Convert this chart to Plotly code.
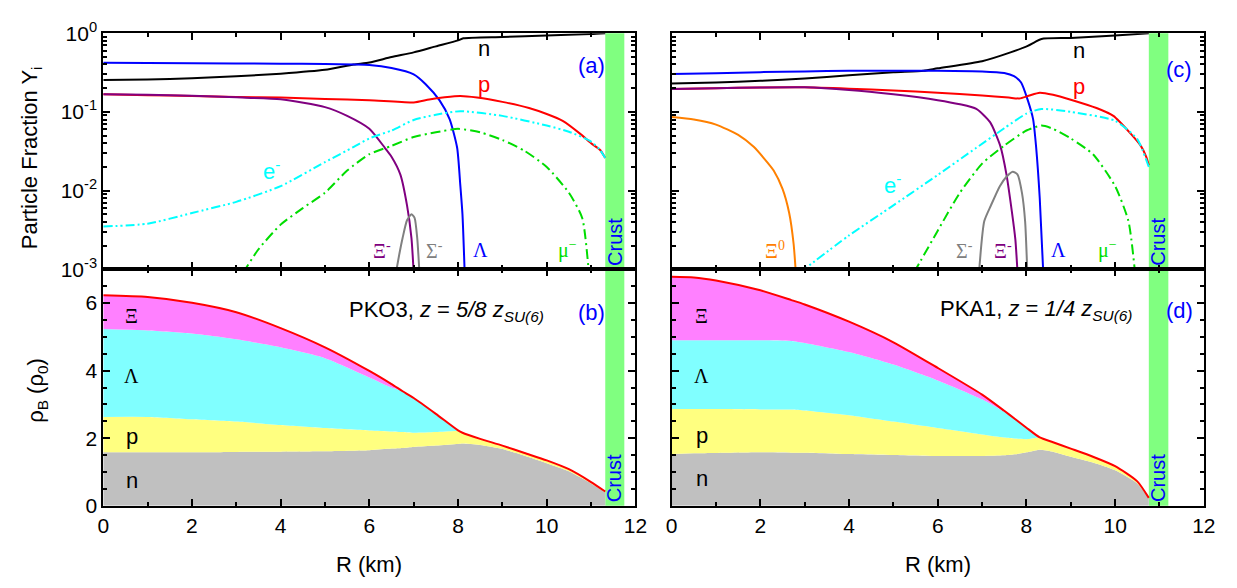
import plotly.graph_objects as go
import numpy as np

# ---------------- DATA ----------------
# Panel (a) PKO3 particle fractions
a_n_R = [0, 1, 2, 3, 4, 5, 5.65, 6, 6.5, 7, 7.5, 8, 8.12, 9, 10, 11, 11.32]
a_n_Y = [0.254, 0.258, 0.268, 0.284, 0.306, 0.342, 0.40, 0.424, 0.497, 0.57, 0.68, 0.81, 0.86, 0.894, 0.937, 0.975, 1.0]
a_L_R = [0, 2, 4, 5, 5.65, 6, 6.5, 7, 7.27, 7.58, 7.81, 7.98, 8.05, 8.1, 8.15]
a_L_Y = [0.42, 0.415, 0.41, 0.405, 0.40, 0.394, 0.36, 0.30, 0.225, 0.141, 0.081, 0.035, 0.012, 0.005, 0.0009]
a_p_R = [0, 1, 2, 3, 4, 5, 6, 7, 7.35, 7.7, 8.05, 8.43, 9, 9.6, 10, 10.36, 10.75, 11, 11.2, 11.32]
a_p_Y = [0.167, 0.163, 0.159, 0.155, 0.152, 0.146, 0.141, 0.132, 0.144, 0.153, 0.159, 0.152, 0.134, 0.112, 0.094, 0.077, 0.053, 0.04, 0.033, 0.026]
a_Xm_R = [0, 1, 2, 3, 4, 5, 5.5, 6, 6.35, 6.5, 6.7, 6.85, 6.95, 7.0]
a_Xm_Y = [0.167, 0.165, 0.16, 0.153, 0.145, 0.115, 0.089, 0.061, 0.035, 0.027, 0.0160, 0.0065, 0.0025, 0.0009]
a_Sm_R = [6.6, 6.68, 6.75, 6.85, 6.95, 7.02, 7.08, 7.13]
a_Sm_Y = [0.0009, 0.0016, 0.0025, 0.0042, 0.005, 0.0045, 0.0025, 0.0009]
a_e_R = [0, 1, 2, 3, 4, 5, 5.65, 6, 6.5, 7, 7.5, 8.05, 9, 10, 10.5, 11, 11.2, 11.32]
a_e_Y = [0.0035, 0.0038, 0.0052, 0.0072, 0.0114, 0.023, 0.036, 0.046, 0.058, 0.079, 0.092, 0.102, 0.089, 0.067, 0.056, 0.042, 0.033, 0.026]
a_mu_R = [3.15, 3.5, 4, 4.5, 5, 5.5, 6, 6.5, 7, 7.5, 8.0, 8.5, 9, 9.5, 10, 10.5, 10.8, 10.95]
a_mu_Y = [0.0009, 0.0018, 0.0037, 0.006, 0.0094, 0.018, 0.029, 0.037, 0.048, 0.055, 0.061, 0.055, 0.044, 0.032, 0.02, 0.0094, 0.0045, 0.0009]

# Panel (c) PKA1 particle fractions
c_n_R = [0, 1, 2, 3, 4, 5, 5.68, 6, 7, 7.64, 8.03, 8.19, 8.34, 9, 10, 10.76]
c_n_Y = [0.229, 0.236, 0.248, 0.266, 0.292, 0.32, 0.333, 0.358, 0.44, 0.57, 0.69, 0.77, 0.845, 0.87, 0.935, 1.0]
c_L_R = [0, 1, 2, 3, 4, 5, 6, 7, 7.5, 7.72, 7.88, 8.03, 8.15, 8.22, 8.3, 8.38]
c_L_Y = [0.303, 0.31, 0.32, 0.327, 0.333, 0.334, 0.333, 0.327, 0.312, 0.284, 0.236, 0.141, 0.081, 0.035, 0.008, 0.0009]
c_p_R = [0, 1, 2, 3, 4, 5, 6, 7, 7.6, 7.84, 8.05, 8.3, 8.6, 9, 9.58, 9.96, 10.35, 10.58, 10.7, 10.76]
c_p_Y = [0.195, 0.2, 0.204, 0.205, 0.197, 0.187, 0.175, 0.162, 0.152, 0.148, 0.16, 0.175, 0.165, 0.143, 0.112, 0.089, 0.053, 0.037, 0.027, 0.021]
c_Xm_R = [0, 1, 2, 3, 4, 5, 6, 6.5, 6.87, 7.18, 7.41, 7.55, 7.67, 7.75, 7.8]
c_Xm_Y = [0.195, 0.2, 0.204, 0.205, 0.19, 0.167, 0.141, 0.125, 0.109, 0.074, 0.037, 0.016, 0.0055, 0.0024, 0.0009]
c_X0_R = [0, 0.5, 1, 1.5, 1.85, 2.1, 2.3, 2.5, 2.65, 2.75, 2.8]
c_X0_Y = [0.086, 0.080, 0.069, 0.051, 0.036, 0.025, 0.018, 0.0105, 0.0052, 0.0021, 0.0009]
c_Sm_R = [6.93, 7.05, 7.2, 7.4, 7.55, 7.69, 7.8, 7.9, 7.97, 8.02]
c_Sm_Y = [0.0009, 0.0041, 0.0065, 0.0114, 0.015, 0.0174, 0.016, 0.0093, 0.0041, 0.0009]
c_e_R = [2.88, 4, 5, 6, 6.87, 7.5, 8, 8.34, 9, 10, 10.5, 10.76]
c_e_Y = [0.0009, 0.0027, 0.0065, 0.0158, 0.035, 0.062, 0.095, 0.109, 0.1, 0.077, 0.045, 0.02]
c_mu_R = [5.46, 6, 6.5, 7, 7.49, 8, 8.34, 8.6, 9, 9.5, 10, 10.3, 10.45]
c_mu_Y = [0.0009, 0.0031, 0.0094, 0.022, 0.037, 0.058, 0.067, 0.061, 0.046, 0.029, 0.0114, 0.0041, 0.0009]

# Panel (b) PKO3 baryon densities (rho_0) by species
b_R = [0, 1, 2, 3, 4, 5, 6, 6.5, 6.75, 7, 7.5, 8, 8.1, 8.5, 9, 9.5, 10, 10.5, 11, 11.32]
b_n = [1.58, 1.58, 1.58, 1.59, 1.60, 1.61, 1.64, 1.69, 1.71, 1.74, 1.78, 1.83, 1.84, 1.80, 1.68, 1.48, 1.26, 1.02, 0.66, 0.40]
b_p = [1.05, 1.05, 0.98, 0.90, 0.79, 0.69, 0.59, 0.51, 0.47, 0.42, 0.40, 0.38, 0.32, 0.18, 0.10, 0.08, 0.08, 0.06, 0.04, 0.02]
b_L = [2.60, 2.56, 2.54, 2.44, 2.30, 2.07, 1.57, 1.30, 1.21, 1.03, 0.54, 0.02, 0, 0, 0, 0, 0, 0, 0, 0]
b_X = [1.00, 0.99, 0.91, 0.80, 0.57, 0.32, 0.19, 0.10, 0, 0, 0, 0, 0, 0, 0, 0, 0, 0, 0, 0]

# Panel (d) PKA1 baryon densities (rho_0) by species
d_R = [0, 0.5, 1, 2, 2.7, 3, 4, 5, 6, 7, 7.5, 7.75, 8, 8.3, 8.6, 9, 9.5, 10, 10.5, 10.76]
d_n = [1.53, 1.55, 1.56, 1.58, 1.57, 1.57, 1.53, 1.50, 1.47, 1.47, 1.49, 1.52, 1.58, 1.66, 1.60, 1.45, 1.28, 1.05, 0.66, 0.22]
d_p = [1.33, 1.31, 1.30, 1.27, 1.28, 1.25, 1.15, 0.99, 0.83, 0.64, 0.53, 0.47, 0.39, 0.36, 0.28, 0.24, 0.17, 0.12, 0.06, 0.01]
d_L = [2.04, 2.04, 2.04, 2.05, 2.03, 2.00, 1.87, 1.69, 1.41, 1.04, 0.76, 0.57, 0.34, 0, 0, 0, 0, 0, 0, 0]
d_X = [1.88, 1.86, 1.77, 1.48, 1.21, 1.14, 0.90, 0.66, 0.37, 0.14, 0.03, 0, 0, 0, 0, 0, 0, 0, 0, 0]

# Crust bands (km)
crust_left = [11.32, 11.75]
crust_right = [10.76, 11.20]

x_ticks = [0, 2, 4, 6, 8, 10, 12]
log_ticks = [0.001, 0.01, 0.1, 1]
log_tick_text = ["10<sup>-3</sup>", "10<sup>-2</sup>", "10<sup>-1</sup>", "10<sup>0</sup>"]
rho_ticks = [0, 2, 4, 6]

# ---------------- FIGURE ----------------
W, H = 1237, 588
FONT = "Liberation Sans, Arial, sans-serif"
SERIF = "Liberation Serif, Times New Roman, serif"
BLUE = "#0000FF"
PURPLE = "#800080"
GRAY = "#808080"
CYAN = "#00FFFF"
GREEN = "#00DD00"
ORANGE = "#FF8000"
SMOOTH = 0.6

fig = go.Figure()


def line(x, y, color, xa, ya, dash="solid", width=2):
    fig.add_trace(go.Scatter(x=x, y=y, mode="lines", xaxis=xa, yaxis=ya,
                             line=dict(color=color, width=width, dash=dash,
                                       shape="spline", smoothing=SMOOTH),
                             showlegend=False, hoverinfo="skip"))


EDASH = "9px,3px,2px,3px,2px,3px"
MDASH = "10px,4px,2px,4px"

# (a)
line(a_n_R, a_n_Y, "black", "x", "y")
line(a_L_R, a_L_Y, BLUE, "x", "y")
line(a_p_R, a_p_Y, "red", "x", "y")
line(a_Xm_R, a_Xm_Y, PURPLE, "x", "y")
line(a_Sm_R, a_Sm_Y, GRAY, "x", "y")
line(a_e_R, a_e_Y, CYAN, "x", "y", dash=EDASH)
line(a_mu_R, a_mu_Y, GREEN, "x", "y", dash=MDASH)

# (c)
line(c_n_R, c_n_Y, "black", "x3", "y3")
line(c_L_R, c_L_Y, BLUE, "x3", "y3")
line(c_p_R, c_p_Y, "red", "x3", "y3")
line(c_Xm_R, c_Xm_Y, PURPLE, "x3", "y3")
line(c_X0_R, c_X0_Y, ORANGE, "x3", "y3")
line(c_Sm_R, c_Sm_Y, GRAY, "x3", "y3")
line(c_e_R, c_e_Y, CYAN, "x3", "y3", dash=EDASH)
line(c_mu_R, c_mu_Y, GREEN, "x3", "y3", dash=MDASH)


def stack(R, comps, xa, ya, group):
    colors = ["#C0C0C0", "#FFFF80", "#80FFFF", "#FF80FF"]
    for vals, col in zip(comps, colors):
        fig.add_trace(go.Scatter(x=R, y=vals, mode="lines", stackgroup=group,
                                 fillcolor=col,
                                 line=dict(width=0, color=col, shape="spline", smoothing=SMOOTH),
                                 xaxis=xa, yaxis=ya, showlegend=False, hoverinfo="skip"))
    total = np.sum(np.array(comps), axis=0)
    line(R, total, "red", xa, ya)


stack(b_R, [b_n, b_p, b_L, b_X], "x2", "y2", "b")
stack(d_R, [d_n, d_p, d_L, d_X], "x4", "y4", "d")

# layout geometry (pixels)
LX = [98.7, 638.7]
RX = [675.5, 1215.5]
TOP = [20, 266.7]
BOT = [266.7, 513.5]


def dom_x(p):
    return [p[0] / W, p[1] / W]


def dom_y(p):
    return [1 - p[1] / H, 1 - p[0] / H]


tickfont = dict(family=FONT, size=21, color="black")
common = dict(showline=True, linecolor="black", linewidth=2, mirror="ticks",
              ticks="inside", ticklen=7, tickwidth=1.5, tickcolor="black",
              showgrid=False, zeroline=False, tickfont=tickfont)
xminor = dict(ticks="inside", ticklen=4, tickwidth=1.5, tickcolor="black", dtick=1, tick0=0)
logminor_vals = [m * 10.0 ** e for e in (-3, -2, -1) for m in range(2, 10)]
yminor_log = dict(ticks="inside", ticklen=4, tickwidth=1.5, tickcolor="black",
                  tickmode="array", tickvals=logminor_vals)
yminor_lin = dict(ticks="inside", ticklen=4, tickwidth=1.5, tickcolor="black", dtick=0.5, tick0=0)


def xax(dom, anchor, labels):
    return dict(common, domain=dom_x(dom), anchor=anchor, range=[0, 12],
                tickmode="array", tickvals=x_ticks, showticklabels=labels, minor=xminor)


def ylog(dom, anchor, labels):
    return dict(common, domain=dom_y(dom), anchor=anchor, type="log", range=[-3, 0.0002],
                tickmode="array", tickvals=log_ticks, ticktext=log_tick_text,
                showticklabels=labels, minor=yminor_log)


def ylin(dom, anchor, labels):
    return dict(common, domain=dom_y(dom), anchor=anchor, range=[0, 7],
                tickmode="array", tickvals=rho_ticks, showticklabels=labels, minor=yminor_lin)


fig.update_layout(
    width=W, height=H, margin=dict(l=0, r=0, t=0, b=0),
    paper_bgcolor="white", plot_bgcolor="white",
    font=dict(family=FONT, size=21, color="black"),
    showlegend=False,
    xaxis=xax(LX, "y", False), yaxis=ylog(TOP, "x", True),
    xaxis2=xax(LX, "y2", True), yaxis2=ylin(BOT, "x2", True),
    xaxis3=xax(RX, "y3", False), yaxis3=ylog(TOP, "x3", False),
    xaxis4=xax(RX, "y4", True), yaxis4=ylin(BOT, "x4", False),
)

# Crust bands spanning top and bottom panels
for xr, band in (("x", crust_left), ("x3", crust_right)):
    fig.add_shape(type="rect", xref=xr, yref="paper", x0=band[0], x1=band[1],
                  y0=1 - BOT[1] / H, y1=1 - TOP[0] / H,
                  fillcolor="#80FF80", line=dict(width=0), layer="below")

ann = []


def txt(x, y, t, xr, yr, color="black", size=22, family=FONT, **kw):
    kw.setdefault("xanchor", "center")
    kw.setdefault("yanchor", "middle")
    ann.append(dict(x=x, y=y, xref=xr, yref=yr, text=t, showarrow=False,
                    font=dict(family=family, size=size, color=color), **kw))


GS = 20  # greek label size
# (a) labels
txt(8.59, -0.2, "n", "x", "y")
txt(8.59, -0.65, "p", "x", "y", color="red")
txt(11.02, -0.405, "(a)", "x", "y", color=BLUE)
txt(3.8, -1.74, "e<sup>-</sup>", "x", "y", color=CYAN)
txt(6.29, -2.75, "Ξ<sup>-</sup>", "x", "y", color=PURPLE, family=SERIF, size=GS)
txt(7.47, -2.75, "Σ<sup>-</sup>", "x", "y", color=GRAY, family=SERIF, size=GS)
txt(8.51, -2.75, "Λ", "x", "y", color=BLUE, family=SERIF, size=GS)
txt(10.47, -2.75, "μ<sup>−</sup>", "x", "y", color=GREEN, family=SERIF, size=GS)

# (c) labels
txt(9.19, -0.22, "n", "x3", "y3")
txt(9.19, -0.68, "p", "x3", "y3", color="red")
txt(11.43, -0.46, "(c)", "x3", "y3", color=BLUE)
txt(4.97, -1.92, "e<sup>-</sup>", "x3", "y3", color=CYAN)
txt(2.34, -2.75, "Ξ<sup>0</sup>", "x3", "y3", color=ORANGE, family=SERIF, size=GS)
txt(6.61, -2.75, "Σ<sup>-</sup>", "x3", "y3", color=GRAY, family=SERIF, size=GS)
txt(7.47, -2.75, "Ξ<sup>-</sup>", "x3", "y3", color=PURPLE, family=SERIF, size=GS)
txt(8.72, -2.75, "Λ", "x3", "y3", color=BLUE, family=SERIF, size=GS)
txt(9.83, -2.75, "μ<sup>−</sup>", "x3", "y3", color=GREEN, family=SERIF, size=GS)

# (b) labels
txt(0.64, 5.63, "Ξ", "x2", "y2", family=SERIF, size=GS)
txt(0.64, 3.85, "Λ", "x2", "y2", family=SERIF, size=GS)
txt(0.64, 2.04, "p", "x2", "y2")
txt(0.64, 0.75, "n", "x2", "y2")
txt(7.75, 5.77, "PKO3, <i>z</i> = <i>5/8 z</i><sub><i>SU(6)</i></sub>", "x2", "y2")
txt(11.0, 5.73, "(b)", "x2", "y2", color=BLUE)

# (d) labels
txt(0.68, 5.63, "Ξ", "x4", "y4", family=SERIF, size=GS)
txt(0.68, 3.85, "Λ", "x4", "y4", family=SERIF, size=GS)
txt(0.68, 2.07, "p", "x4", "y4")
txt(0.68, 0.8, "n", "x4", "y4")
txt(8.22, 5.8, "PKA1, <i>z</i> = <i>1/4 z</i><sub><i>SU(6)</i></sub>", "x4", "y4")
txt(11.46, 5.77, "(d)", "x4", "y4", color=BLUE)

# Crust labels
for xr, yr, band in (("x", "y domain", crust_left), ("x2", "y2 domain", crust_left),
                     ("x3", "y3 domain", crust_right), ("x4", "y4 domain", crust_right)):
    txt((band[0] + band[1]) / 2, 0.005, "Crust", xr, yr, color=BLUE, size=20,
        textangle=-90, yanchor="bottom")

# Axis titles
txt(25 / W, 1 - 150 / H, "Particle Fraction Y<sub>i</sub>", "paper", "paper", size=22, textangle=-90)
txt(32 / W, 1 - 393 / H, "ρ<sub>B</sub> (ρ<sub>0</sub>)", "paper", "paper", size=22, textangle=-90)
txt(368.7 / W, 1 - 575 / H, "R (km)", "paper", "paper", size=22)
txt(945.5 / W, 1 - 575 / H, "R (km)", "paper", "paper", size=22)

fig.update_layout(annotations=ann)
fig.write_html("out.html", config={"displayModeBar": False},
               post_script="document.body.style.margin='0px';")
